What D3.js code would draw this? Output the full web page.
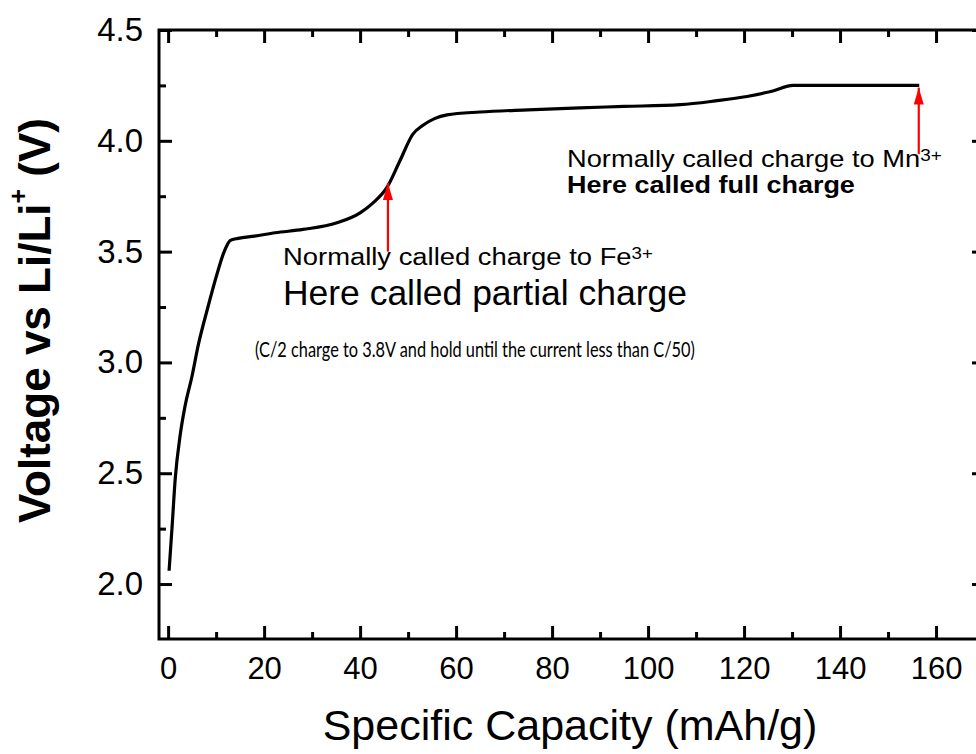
<!DOCTYPE html>
<html>
<head>
<meta charset="utf-8">
<script src="https://cdn.jsdelivr.net/npm/d3@7"></script>
<style>
  body { margin: 0; background: #fff; }
  svg { display: block; }
  text { font-family: Arial, "Liberation Sans", sans-serif; fill: #000; }
</style>
</head>
<body>
<svg id="chart" width="976" height="754"></svg>
<script>
// charge curve
var capacity = [0.2, 0.8, 1.5, 2.5, 3.5, 5, 6.3, 8.3, 10.2, 11.5, 12.3, 12.9, 14.6, 18, 22.3, 28.1, 35.2, 40, 42.7, 45.6, 48.3, 51, 53.1, 55.5, 58.1, 65, 75, 85.8, 95, 106.7, 114, 120.6, 126, 130.2, 140, 150, 156.5];
var voltage = [2.06, 2.25, 2.48, 2.67, 2.80, 2.94, 3.08, 3.25, 3.40, 3.49, 3.53, 3.55, 3.56, 3.57, 3.585, 3.60, 3.63, 3.675, 3.72, 3.79, 3.91, 4.03, 4.07, 4.10, 4.117, 4.13, 4.14, 4.149, 4.155, 4.163, 4.18, 4.20, 4.225, 4.25, 4.25, 4.25, 4.25];

// red arrows: x position, tail and head voltage
var arrowCap = [45.8, 156.4];
var arrowFrom = [3.50, 3.94];
var arrowTo = [3.81, 4.24];

var xMajor = [0, 20, 40, 60, 80, 100, 120, 140, 160];
var xMinor = [10, 30, 50, 70, 90, 110, 130, 150, 170];
var yMajor = [2.0, 2.5, 3.0, 3.5, 4.0, 4.5];
var yMinor = [2.25, 2.75, 3.25, 3.75, 4.25];

var xTitle = "Specific Capacity (mAh/g)";

var svg = d3.select('#chart');
var plotL = 159, plotR = 985, plotT = 30, plotB = 639;

var x = d3.scaleLinear().domain([-1.9, 170.2]).range([plotL, plotR]);
var y = d3.scaleLinear().domain([1.752, 4.5]).range([plotB, plotT]);

// ticks, all pointing inward
function styleAxis(g){
	g.select('.domain').remove();
	g.selectAll('.tick line').attr('stroke', '#000').attr('stroke-width', 3);
}

svg.append('g').attr('transform', 'translate(0,' + plotB + ')')
	.call(d3.axisBottom(x).tickValues(xMajor).tickSize(-13).tickPadding(18).tickFormat(d3.format('d')))
	.call(styleAxis)
	.selectAll('text').style('font-size', '31px').attr('fill', '#000');
svg.append('g').attr('transform', 'translate(0,' + plotB + ')')
	.call(d3.axisBottom(x).tickValues(xMinor).tickSize(-7).tickFormat(''))
	.call(styleAxis);
svg.append('g').attr('transform', 'translate(0,' + plotT + ')')
	.call(d3.axisTop(x).tickValues(xMajor).tickSize(-13).tickFormat(''))
	.call(styleAxis);
svg.append('g').attr('transform', 'translate(0,' + plotT + ')')
	.call(d3.axisTop(x).tickValues(xMinor).tickSize(-7).tickFormat(''))
	.call(styleAxis);

svg.append('g').attr('transform', 'translate(' + plotL + ',0)')
	.call(d3.axisLeft(y).tickValues(yMajor).tickSize(-13).tickPadding(16).tickFormat(d3.format('.1f')))
	.call(styleAxis)
	.selectAll('text').style('font-size', '33px').attr('fill', '#000');
svg.append('g').attr('transform', 'translate(' + plotL + ',0)')
	.call(d3.axisLeft(y).tickValues(yMinor).tickSize(-7).tickFormat(''))
	.call(styleAxis);
svg.append('g').attr('transform', 'translate(' + plotR + ',0)')
	.call(d3.axisRight(y).tickValues(yMajor).tickSize(-13).tickFormat(''))
	.call(styleAxis);
svg.append('g').attr('transform', 'translate(' + plotR + ',0)')
	.call(d3.axisRight(y).tickValues(yMinor).tickSize(-7).tickFormat(''))
	.call(styleAxis);

// frame
svg.append('rect')
	.attr('x', plotL).attr('y', plotT)
	.attr('width', plotR - plotL).attr('height', plotB - plotT)
	.attr('fill', 'none').attr('stroke', '#000').attr('stroke-width', 3);

// the curve
var pts = capacity.map(function(c, i){ return [c, voltage[i]]; });
var line = d3.line()
	.x(function(d){ return x(d[0]); })
	.y(function(d){ return y(d[1]); })
	.curve(d3.curveMonotoneX);
svg.append('path')
	.datum(pts)
	.attr('d', line)
	.attr('fill', 'none')
	.attr('stroke', '#000')
	.attr('stroke-width', 3.2)
	.attr('stroke-linejoin', 'round');

// arrows
svg.append('defs').append('marker')
	.attr('id', 'head')
	.attr('viewBox', '0 0 17 10')
	.attr('refX', 17).attr('refY', 5)
	.attr('markerWidth', 17).attr('markerHeight', 10)
	.attr('markerUnits', 'userSpaceOnUse')
	.attr('orient', 'auto')
	.append('path')
	.attr('d', 'M0,0 L17,5 L0,10 Z')
	.attr('fill', 'red');

for(var k = 0; k < arrowCap.length; k++){
	svg.append('line')
		.attr('x1', x(arrowCap[k])).attr('y1', y(arrowFrom[k]))
		.attr('x2', x(arrowCap[k])).attr('y2', y(arrowTo[k]))
		.attr('stroke', 'red')
		.attr('stroke-width', 2.2)
		.attr('marker-end', 'url(#head)');
}

// annotation text, stretched to the width it takes in the picture
function label(px, py, width, size, weight, family, main, sup){
	var t = svg.append('text')
		.attr('transform', 'translate(' + px + ',' + py + ')')
		.style('font-size', size + 'px')
		.style('font-weight', weight);
	if(family){ t.style('font-family', family); }
	t.append('tspan').text(main);
	if(sup){
		t.append('tspan').attr('dy', -6).style('font-size', '16px').text(sup);
	}
	var w = t.node().getComputedTextLength();
	t.attr('transform', 'translate(' + px + ',' + py + ') scale(' + (width / w) + ',1)');
	return t;
}

label(567, 167, 375, 23, 'normal', null, 'Normally called charge to Mn', '3+');
label(567, 193, 288, 23, 'bold', null, 'Here called full charge');
label(283, 265, 370, 23.5, 'normal', null, 'Normally called charge to Fe', '3+');
label(283, 305, 404, 35, 'normal', null, 'Here called partial charge');
label(255, 357, 440, 22, 'normal', 'Lato, "Open Sans", sans-serif', '(C/2 charge to 3.8V and hold until the current less than C/50)');

// axis titles
svg.append('text')
	.attr('x', (plotL + plotR) / 2 - 2).attr('y', 740)
	.attr('text-anchor', 'middle')
	.style('font-size', '43px')
	.text(xTitle);

var yt = svg.append('text')
	.attr('transform', 'translate(50,' + ((plotT + plotB) / 2 - 14) + ') rotate(-90)')
	.attr('text-anchor', 'middle')
	.style('font-size', '44px')
	.style('font-weight', 'bold');
yt.append('tspan').text('Voltage vs Li/Li');
yt.append('tspan').attr('dy', -23).style('font-size', '25px').text('+');
yt.append('tspan').attr('dy', 23).text(' (V)');
</script>
</body>
</html>
